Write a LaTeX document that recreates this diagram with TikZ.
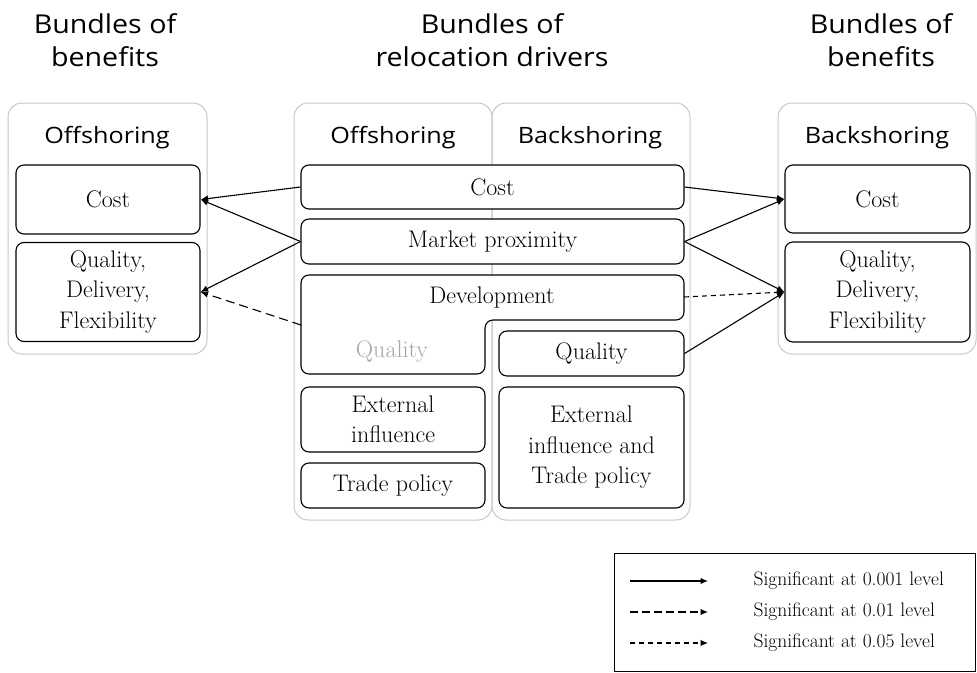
\documentclass[tikz,border=0pt]{standalone}
\usepackage{fontspec}
\newfontfamily\headfont[FakeStretch=1.1]{Open Sans}
\newfontfamily\titlefont[FakeStretch=1.12]{Open Sans}
\usetikzlibrary{arrows.meta}
\tikzset{
  every picture/.style={x=1pt,y=-1pt},
  head/.style={font=\headfont\fontsize{26}{33}\selectfont, align=center},
  coltitle/.style={font=\titlefont\fontsize{22.5}{24}\selectfont},
  container/.style={draw=black!22, line width=1pt, rounded corners=14pt},
  body/.style={font=\fontsize{24}{30.5}\selectfont},
  item/.style={body, draw=black, line width=1.1pt, rounded corners=8pt, inner sep=0pt,
               align=center},
  conn/.style={line width=1.1pt, -{Latex[length=7.5pt,width=6.5pt]}},
  dashA/.style={conn, dash pattern=on 9pt off 5pt},
  dashB/.style={conn, dash pattern=on 5pt off 4pt},
  legtext/.style={font=\fontsize{19.5}{21}\selectfont, anchor=west},
}
\begin{document}
\begin{tikzpicture}
\useasboundingbox (0,0) rectangle (977,672);

% headings
\node[head] (hL) at (105,40) {Bundles of\\benefits};
\node[head] (hC) at (492,40) {Bundles of\\relocation drivers};
\node[head] (hR) at (881,40) {Bundles of\\benefits};

% outer containers
\draw[container] (8,103) rectangle (207,354);
\draw[container] (294,103) rectangle (492,520);
\draw[container] (492,103) rectangle (690,520);
\draw[container] (778,103) rectangle (976,354);

\node[coltitle] (tL) at (107,138) {Offshoring};
\node[coltitle] (tCo) at (393,138) {Offshoring};
\node[coltitle] (tCb) at (590,138) {Backshoring};
\node[coltitle] (tR) at (877,138) {Backshoring};

% left benefits
\node[item, minimum width=184pt, minimum height=69pt] (lcost) at (108,199.5) {Cost};
\node[item, minimum width=184pt, minimum height=99pt] (lqdf) at (108,292) {Quality,\\Delivery,\\Flexibility};

% right benefits
\node[item, minimum width=185pt, minimum height=68pt] (rcost) at (877.5,199) {Cost};
\node[item, minimum width=185pt, minimum height=100pt] (rqdf) at (877.5,292) {Quality,\\Delivery,\\Flexibility};

% drivers
\node[item, fill=white, minimum width=383pt, minimum height=44pt] (cost) at (492.5,187) {Cost};
\node[item, fill=white, minimum width=383pt, minimum height=45pt] (mp) at (492.5,241.5) {Market proximity};
\draw[line width=1.1pt, rounded corners=8pt, fill=white]
  (301,275) -- (684,275) -- (684,320) -- (485,320) -- (485,374) -- (301,374) -- cycle;
\node[body] (dev) at (492,298) {Development};
\node[body, text=black!35] (qoff) at (392,352) {Quality};
\coordinate (devL) at (301,325);
\coordinate (devR) at (684,297);
\node[item, fill=white, minimum width=185pt, minimum height=45pt] (qb) at (591.5,353.5) {Quality};
\node[item, fill=white, minimum width=184pt, minimum height=65pt] (ext) at (393,419.5) {External\\influence};
\node[item, fill=white, minimum width=184pt, minimum height=45pt] (trade) at (393,485.5) {Trade policy};
\node[item, fill=white, minimum width=185pt, minimum height=121pt] (extb) at (591.5,447.5) {External\\influence and\\Trade policy};

% links to offshoring benefits
\draw[conn] (cost.west) -- (lcost.east);
\draw[conn] (mp.west) -- (lcost.east);
\draw[conn] (mp.west) -- (lqdf.east);
\draw[dashA] (devL) -- (lqdf.east);

% links to backshoring benefits
\draw[conn] (cost.east) -- (rcost.west);
\draw[conn] (mp.east) -- (rcost.west);
\draw[conn] (mp.east) -- (rqdf.west);
\draw[dashB] (devR) -- (rqdf.west);
\draw[conn] (qb.east) -- (rqdf.west);

% legend
\draw[line width=1pt] (614,553) rectangle (975,671);
\coordinate (a1) at (630,581); \coordinate (b1) at (708,581);
\coordinate (a2) at (630,612); \coordinate (b2) at (708,612);
\coordinate (a3) at (630,643); \coordinate (b3) at (708,643);
\draw[conn] (a1) -- (b1);
\draw[conn, dash pattern=on 8pt off 4pt] (a2) -- (b2);
\draw[conn, dash pattern=on 5pt off 4pt] (a3) -- (b3);
\node[legtext] (l1) at (750,581) {Significant at 0.001 level};
\node[legtext] (l2) at (750,612) {Significant at 0.01 level};
\node[legtext] (l3) at (750,643) {Significant at 0.05 level};
\end{tikzpicture}
\end{document}
